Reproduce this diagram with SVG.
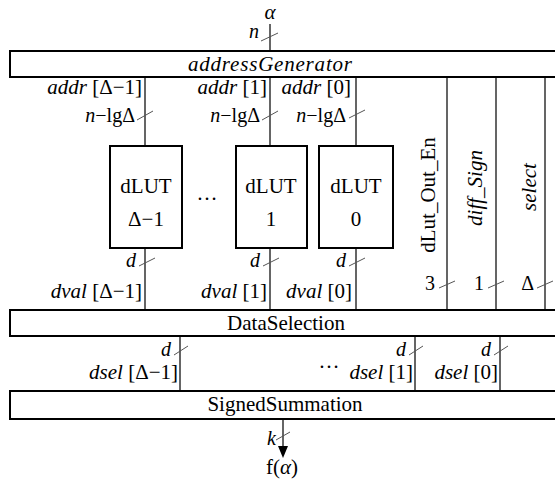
<svg xmlns="http://www.w3.org/2000/svg" width="555" height="483" viewBox="0 0 555 483">
<style>
.box{fill:#fff;stroke:#000;stroke-width:2}
.wire{stroke:#333;stroke-width:1.5;fill:none}
.tick{stroke:#555;stroke-width:1;fill:none}
text{font-family:"Liberation Serif","DejaVu Serif",serif;font-size:21px;fill:#000}
.i{font-style:italic}
.c{text-anchor:middle}
.r{text-anchor:end}
.s{font-size:20px}
</style>

<g id="connectors">
<path class="wire" d="M270,24 V51"/>
<path class="wire" d="M145,77 V146 M270,77 V146 M356,77 V146"/>
<path class="wire" d="M145,248 V310 M270,248 V310 M356,248 V310"/>
<path class="wire" d="M447,77 V310 M496,77 V310 M545,77 V310"/>
<path class="wire" d="M180,336 V391 M415,336 V391 M500,336 V391"/>
<line x1="283" y1="419" x2="283" y2="446" stroke="#333" stroke-width="1.5"/>
<path d="M278,446 L288,446 L283,458 Z" fill="#000"/>
<path class="tick" d="M261,41 l17,-8 M137,120 l16,-9 M262,120 l16,-9 M349,118 l16,-8 M139,266 l16,-8 M263,266 l16,-8 M349,266 l16,-8 M439,288 l16,-7 M488,288 l16,-7 M537,288 l16,-7 M174,355 l14,-9 M409,355 l14,-9 M494,355 l14,-9 M276,440 l14,-8"/>
<text class="i c" x="270" y="19">α</text>
<text class="i r s" x="259" y="38">n</text>
<text class="r" x="142" y="94"><tspan class="i">addr</tspan> [Δ−1]</text>
<text class="r" x="267" y="94"><tspan class="i">addr</tspan> [1]</text>
<text class="r" x="351" y="94"><tspan class="i">addr</tspan> [0]</text>
<text class="r s" x="135" y="122"><tspan class="i">n</tspan>−lgΔ</text>
<text class="r s" x="260" y="122"><tspan class="i">n</tspan>−lgΔ</text>
<text class="r s" x="346" y="122"><tspan class="i">n</tspan>−lgΔ</text>
<text class="i r s" x="136" y="267">d</text>
<text class="i r s" x="260" y="267">d</text>
<text class="i r s" x="346" y="267">d</text>
<text class="r" x="142" y="298"><tspan class="i">dval</tspan> [Δ−1]</text>
<text class="r" x="267" y="298"><tspan class="i">dval</tspan> [1]</text>
<text class="r" x="352" y="298"><tspan class="i">dval</tspan> [0]</text>
<text transform="translate(435,195) rotate(-90)" class="c">dLut_Out_En</text>
<text transform="translate(482,188) rotate(-90)" class="i c">diff_Sign</text>
<text transform="translate(536,187) rotate(-90)" class="i c">select</text>
<text class="r s" x="435" y="290">3</text>
<text class="r s" x="484" y="290">1</text>
<text class="r s" x="534" y="290">Δ</text>
<text class="i r s" x="171" y="356">d</text>
<text class="i r s" x="406" y="356">d</text>
<text class="i r s" x="491" y="356">d</text>
<text class="r" x="178" y="379"><tspan class="i">dsel</tspan> [Δ−1]</text>
<text class="c" x="329" y="368">…</text>
<text class="r" x="413" y="379"><tspan class="i">dsel</tspan> [1]</text>
<text class="r" x="498" y="379"><tspan class="i">dsel</tspan> [0]</text>
<text class="i r s" x="276" y="445">k</text>
<text class="c" x="282" y="474">f(<tspan class="i">α</tspan>)</text>
</g>

<g id="addressGenerator">
<rect class="box" x="10" y="51" width="560" height="26"/>
<text class="i c" x="270" y="71" textLength="164">addressGenerator</text>
</g>

<g id="dLUT_dm1">
<rect class="box" x="110" y="146" width="72" height="102"/>
<text class="c" x="146" y="193">dLUT</text>
<text class="c" x="146" y="226">Δ−1</text>
</g>

<g id="ellipsis_dlut">
<text class="c" x="207" y="200">…</text>
</g>

<g id="dLUT_1">
<rect class="box" x="236" y="146" width="71" height="102" stroke-width="2.5"/>
<text class="c" x="271" y="193">dLUT</text>
<text class="c" x="271" y="226">1</text>
</g>

<g id="dLUT_0">
<rect class="box" x="319" y="146" width="74" height="102"/>
<text class="c" x="356" y="193">dLUT</text>
<text class="c" x="356" y="226">0</text>
</g>

<g id="DataSelection">
<rect class="box" x="10" y="310" width="560" height="26"/>
<text class="c" x="286" y="330">DataSelection</text>
</g>

<g id="SignedSummation">
<rect class="box" x="10" y="391" width="560" height="28"/>
<text class="c" x="285" y="411">SignedSummation</text>
</g>
</svg>
